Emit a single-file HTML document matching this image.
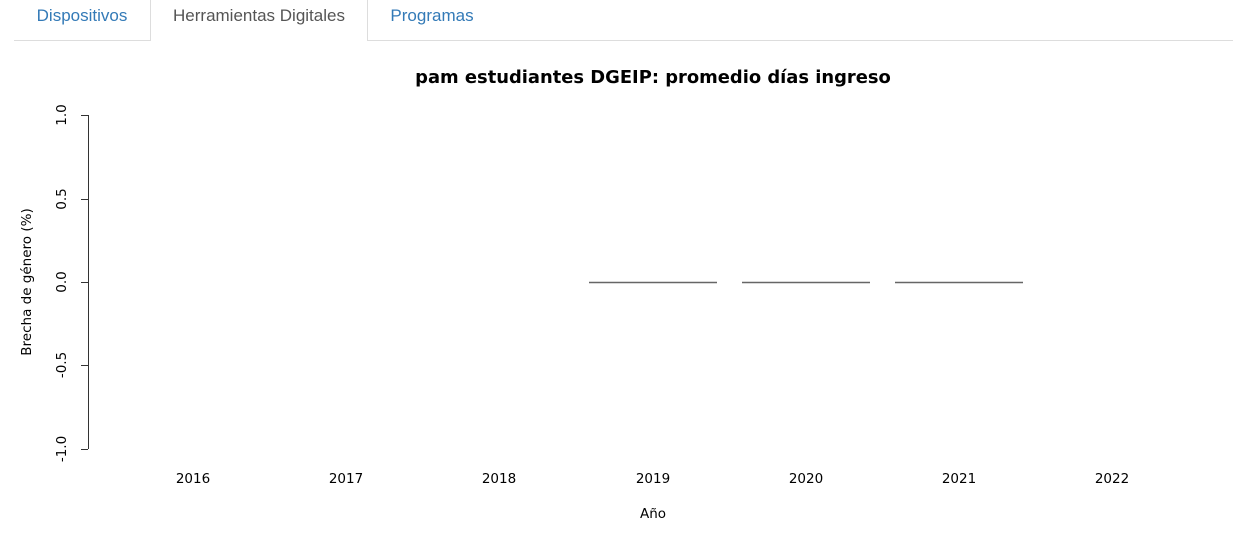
<!DOCTYPE html><html><head><style>
body{margin:0;width:1233px;height:550px;background:#fff;position:relative;overflow:hidden;font-family:"Liberation Sans",sans-serif}
.tab{position:absolute;top:0;height:40px;line-height:32px;font-size:17px;color:#337ab7;text-align:center}
</style></head><body>
<div style="position:absolute;left:14px;top:40px;width:1219px;height:1px;background:#ddd"></div>
<div class="tab" style="left:14px;width:136px">Dispositivos</div>
<div class="tab" style="left:150px;width:216px;height:41px;background:#fff;border:1px solid #ddd;border-top:none;border-bottom:none;color:#555;top:0">Herramientas Digitales</div>
<div class="tab" style="left:367px;width:130px">Programas</div>
<svg width="1233" height="550" style="position:absolute;left:0;top:0" font-family="DejaVu Sans, sans-serif">
<text x="653" y="83" text-anchor="middle" font-size="17.9" font-weight="bold">pam estudiantes DGEIP: promedio días ingreso</text>
<g stroke="#333" stroke-width="1"><line x1="88.5" y1="115" x2="88.5" y2="449"/>
<line x1="81" y1="115.5" x2="88" y2="115.5"/><line x1="81" y1="199.5" x2="88" y2="199.5"/><line x1="81" y1="282.5" x2="88" y2="282.5"/><line x1="81" y1="365.5" x2="88" y2="365.5"/><line x1="81" y1="449.5" x2="88" y2="449.5"/></g>
<g font-size="13.5" text-anchor="middle">
<text transform="translate(66,115) rotate(-90)">1.0</text>
<text transform="translate(66,199) rotate(-90)">0.5</text>
<text transform="translate(66,282) rotate(-90)">0.0</text>
<text transform="translate(66,365) rotate(-90)">-0.5</text>
<text transform="translate(66,449) rotate(-90)">-1.0</text>
<text transform="translate(31,282) rotate(-90)">Brecha de género (%)</text>
<text x="193" y="483">2016</text><text x="346" y="483">2017</text><text x="499" y="483">2018</text><text x="653" y="483">2019</text><text x="806" y="483">2020</text><text x="959" y="483">2021</text><text x="1112" y="483">2022</text>
<text x="653" y="518">Año</text></g>
<g stroke="#666" stroke-width="1.5"><line x1="589" y1="282.5" x2="717" y2="282.5"/><line x1="742" y1="282.5" x2="870" y2="282.5"/><line x1="895" y1="282.5" x2="1023" y2="282.5"/></g>
</svg></body></html>
